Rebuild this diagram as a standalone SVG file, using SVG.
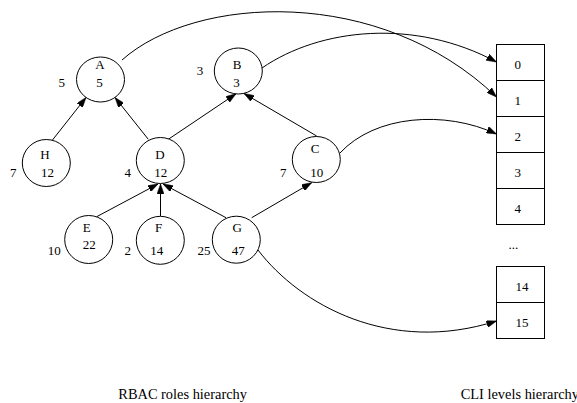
<svg xmlns="http://www.w3.org/2000/svg" width="577" height="403" viewBox="0 0 577 403">
<style>
.n ellipse{fill:#fff;stroke:#000;stroke-width:1}
text{font-family:"Liberation Serif","Times New Roman",serif;font-size:13px;fill:#000;text-anchor:middle}
.big{font-size:14.4px;text-anchor:start}
.e path{fill:none;stroke:#000;stroke-width:1;marker-end:url(#ah)}
.c rect{fill:#fff;stroke:#000;stroke-width:1}
</style>
<defs>
<marker id="ah" markerUnits="userSpaceOnUse" markerWidth="10" markerHeight="7" refX="10" refY="3.5" orient="auto" viewBox="0 0 10 7">
<path d="M0,0 L10,3.5 L0,7 z" fill="#000" stroke="#000" stroke-width="0.5"/>
</marker>
</defs>
<rect width="577" height="403" fill="#fff"/>
<g id="connectors" class="e">
<path d="M51.7,141 L86,97.5"/>
<path d="M148.3,139.3 L115,97.5"/>
<path d="M168.3,139.3 L236,93.8"/>
<path d="M316.7,136 L244,93.5"/>
<path d="M96.7,216.7 L158,184"/>
<path d="M160.5,216 L160.5,184"/>
<path d="M226,217.7 L163,184"/>
<path d="M251.7,217.7 L311.7,182.7"/>
<path d="M122,60 C195,-5 380,-15 496.5,97"/>
<path d="M262,68 C320,28 415,18 496.5,62"/>
<path d="M340,153 C375,115 445,110 496.5,134"/>
<path d="M258,250 C300,305 390,355 496.5,321"/>
</g>
<g id="A" class="n"><ellipse cx="100.5" cy="79.5" rx="24" ry="22.5"/><text x="100" y="69">A</text><text x="99.5" y="87">5</text><text x="61.7" y="87">5</text></g>
<g id="B" class="n"><ellipse cx="238.3" cy="71" rx="24" ry="23"/><text x="237" y="69">B</text><text x="236.5" y="86.5">3</text><text x="200" y="74.5">3</text></g>
<g id="H" class="n"><ellipse cx="46.3" cy="163" rx="24" ry="23.5"/><text x="45" y="159">H</text><text x="47.5" y="177">12</text><text x="13.3" y="177">7</text></g>
<g id="D" class="n"><ellipse cx="160.3" cy="160.5" rx="24" ry="23"/><text x="160" y="159">D</text><text x="160.7" y="177">12</text><text x="127.7" y="177">4</text></g>
<g id="C" class="n"><ellipse cx="316.3" cy="159.5" rx="24" ry="23"/><text x="315" y="153">C</text><text x="316.7" y="176.5">10</text><text x="283.3" y="176.5">7</text></g>
<g id="E" class="n"><ellipse cx="88.7" cy="239.5" rx="24" ry="24"/><text x="86.7" y="231.5">E</text><text x="89.3" y="248.5">22</text><text x="54.3" y="254.5">10</text></g>
<g id="F" class="n"><ellipse cx="160.3" cy="240.3" rx="24" ry="24"/><text x="158.7" y="231.5">F</text><text x="156.7" y="254.5">14</text><text x="127.7" y="254.5">2</text></g>
<g id="G" class="n"><ellipse cx="236.3" cy="239.7" rx="24" ry="23.5"/><text x="237.3" y="231.5">G</text><text x="238.3" y="254.5">47</text><text x="204" y="254.5">25</text></g>
<g id="cli" class="c">
<rect x="496.5" y="44.5" width="48" height="36"/>
<rect x="496.5" y="80.5" width="48" height="36"/>
<rect x="496.5" y="116.5" width="48" height="36"/>
<rect x="496.5" y="152.5" width="48" height="36"/>
<rect x="496.5" y="188.5" width="48" height="36"/>
<rect x="496.5" y="266.5" width="48" height="36"/>
<rect x="496.5" y="302.5" width="48" height="36"/>
<text x="517.7" y="68.8">0</text>
<text x="517.7" y="104.8">1</text>
<text x="517.7" y="140.8">2</text>
<text x="517.7" y="176.8">3</text>
<text x="517.7" y="212.8">4</text>
<text x="513.3" y="249">...</text>
<text x="522" y="291">14</text>
<text x="522" y="327">15</text>
</g>
<text class="big" x="118.3" y="399">RBAC roles hierarchy</text>
<text class="big" x="460.7" y="399">CLI levels hierarchy</text>
</svg>
